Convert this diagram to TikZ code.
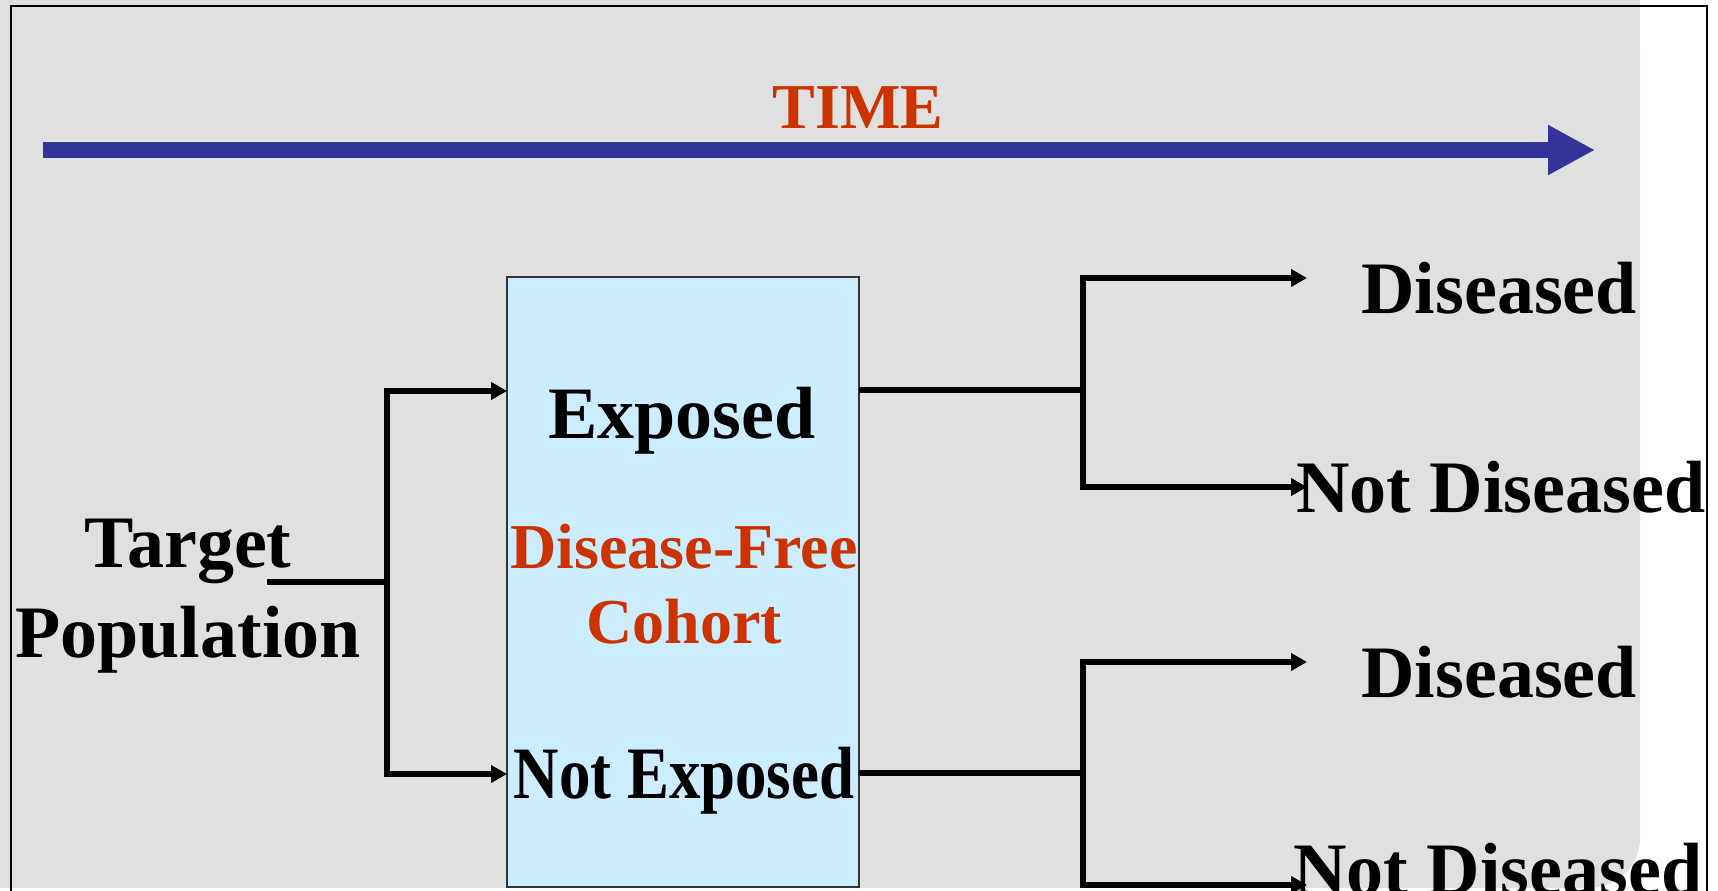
\documentclass[tikz,border=0pt]{standalone}
\usepackage{fontspec}
\setmainfont{Liberation Serif}
\usetikzlibrary{arrows.meta}
\definecolor{bgGray}{HTML}{E0E0E0}
\definecolor{timeBlue}{HTML}{333399}
\definecolor{redTxt}{HTML}{CC3300}
\definecolor{boxBlue}{HTML}{CCECFF}

\begin{document}
\begin{tikzpicture}[x=0.5pt,y=-0.5pt,
  >={Triangle[length=8pt,width=8.5pt]},
  lbl/.style={font=\fontsize{37}{45}\selectfont\bfseries,inner sep=0pt,anchor=base west},
  red/.style={font=\fontsize{32}{37.5}\selectfont\bfseries,text=redTxt,inner sep=0pt},
  link/.style={line width=2.6pt},
  cohort/.style={draw=black!80,fill=boxBlue,line width=0.75pt,inner sep=0pt}]
  \useasboundingbox (0,0) rectangle (1718,890);
  % backdrop and frame
  \fill[bgGray] (0,0) rectangle (1590,888);
  \fill[bgGray,rounded corners=25pt] (1500,0) rectangle (1640,888);
  \fill[bgGray] (1500,0) rectangle (1640,800);
  \draw[line width=1pt] (11,900) -- (11,6) -- (1707,6) -- (1707,900);

  % time axis
  \coordinate (t0) at (43,150);
  \coordinate (t1) at (1595,150);
  \draw[timeBlue,line width=8pt,-{Triangle[length=23.5pt,width=23.5pt]}] (t0) -- (t1);
  \node[red,anchor=base] (time) at (858,128) {TIME};

  % cohort box
  \node[cohort,minimum width=176pt,minimum height=305pt] (box) at (683,582) {};
  \node[lbl,anchor=base] (exp) at (682,438) {Exposed};
  \node[red,align=center,anchor=base] (dfc) at (684,643) {Disease-Free\\Cohort};
  \node[lbl,anchor=base] (nexp) at (684,798) {\scalebox{0.85}[1]{Not Exposed}};

  \node[lbl,align=center,anchor=base] (pop) at (188,657) {Target\\Population};

  % outcomes
  \node[lbl] (dis1) at (1361,313) {Diseased};
  \node[lbl] (ndis1) at (1296,512) {Not Diseased};
  \node[lbl] (dis2) at (1361,697) {Diseased};
  \node[lbl] (ndis2) at (1293,894) {Not Diseased};

  % split into exposure groups
  \coordinate (src) at (267,582);
  \coordinate (splitL) at (387,582);
  \coordinate (inE) at (507,391);
  \coordinate (inN) at (507,774);
  \draw[link] (src) -- (splitL);
  \draw[link,->] (splitL) |- (inE);
  \draw[link,->] (splitL) |- (inN);

  % follow-up, exposed
  \coordinate (outE) at (859,390);
  \coordinate (splitE) at (1083,390);
  \coordinate (toD1) at (1307,278);
  \coordinate (toN1) at (1307,487);
  \draw[link] (outE) -- (splitE);
  \draw[link,->] (splitE) |- (toD1);
  \draw[link,->] (splitE) |- (toN1);

  % follow-up, not exposed
  \coordinate (outN) at (859,773);
  \coordinate (splitN) at (1083,773);
  \coordinate (toD2) at (1307,662);
  \coordinate (toN2) at (1307,885);
  \draw[link] (outN) -- (splitN);
  \draw[link,->] (splitN) |- (toD2);
  \draw[link,->] (splitN) |- (toN2);
\end{tikzpicture}
\end{document}
